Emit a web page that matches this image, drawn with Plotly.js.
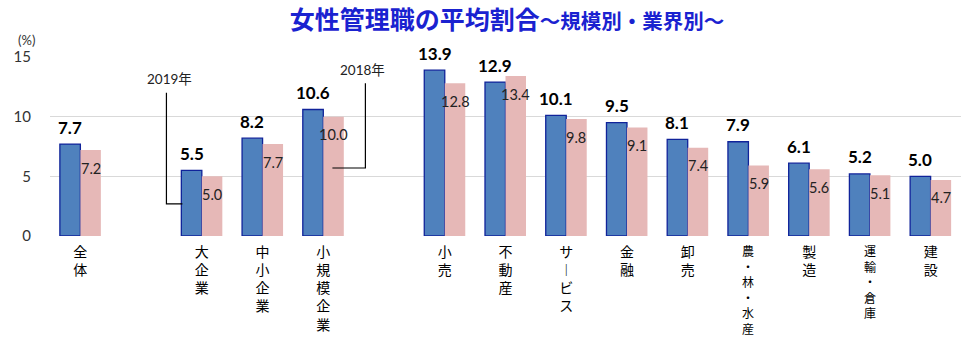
<!DOCTYPE html>
<html>
<head>
<meta charset="utf-8">
<script src="https://cdn.plot.ly/plotly-3.0.1.min.js"></script>
<style>html,body{margin:0;padding:0;background:#fff;}#chart{width:966px;height:338px;}</style>
</head>
<body>
<div id="chart"></div>
<script>
// slots: null = empty gap slot between groups
const categories = ['全体', null, '大企業', '中小企業', '小規模企業', null, '小売', '不動産', 'サービス', '金融', '卸売', '農・林・水産', '製造', '運輸・倉庫', '建設'];
// vertical display form of each category label (one character per line)
const verticalLabels = ['全体', '', '大企業', '中小企業', '小規模企業', '', '小売', '不動産', 'サ︱ビス', '金融', '卸売', '農・林・水産', '製造', '運輸・倉庫', '建設'];
const values2019 = [7.7, null, 5.5, 8.2, 10.6, null, 13.9, 12.9, 10.1, 9.5, 8.1, 7.9, 6.1, 5.2, 5.0];
const values2018 = [7.2, null, 5.0, 7.7, 10.0, null, 12.8, 13.4, 9.8, 9.1, 7.4, 5.9, 5.6, 5.1, 4.7];
const yTicks = [0, 5, 10, 15];

const pos = categories.map((c, i) => i);
const xs = pos.filter(i => categories[i] !== null);
const y19 = xs.map(i => values2019[i]);
const y18 = xs.map(i => values2018[i]);

const bargap = 0.325;
const half = (1 - bargap) / 4; // offset of each bar centre from slot centre

const numFont = 'Lato, "Noto Sans CJK JP", sans-serif';
const jpFont = '"Noto Sans CJK JP", sans-serif';
const labelSize = 14;
const longLabelSize = 12;  // labels with "・" are set tighter so they fit the page

const traces = [
  {type: 'bar', name: '2019年', x: xs, y: y19,
   marker: {color: '#4f81bd', line: {color: '#10239a', width: 1.3}}, hoverinfo: 'none'},
  {type: 'bar', name: '2018年', x: xs, y: y18,
   marker: {color: '#e6b8b7', line: {color: '#e6b8b7', width: 0}}, hoverinfo: 'none'}
];

const annotations = [];
xs.forEach((x, k) => {
  annotations.push({x: x - half, y: y19[k], xref: 'x', yref: 'y', text: y19[k].toFixed(1),
    showarrow: false, yanchor: 'middle', yshift: 17,
    font: {family: numFont, size: 17, color: '#000', weight: 'bold'}});
  annotations.push({x: x + half, y: y18[k], xref: 'x', yref: 'y', text: y18[k].toFixed(1),
    showarrow: false, yanchor: 'middle', yshift: -18,
    font: {family: numFont, size: 14.5, color: '#222'}});
});

const tickText = verticalLabels.map((lab, i) => {
  const chars = Array.from(lab);
  if (lab.indexOf('・') >= 0) {
    const pitch = longLabelSize * 1.3;
    annotations.push({x: i, y: 0, xref: 'x', yref: 'y', showarrow: false,
      text: chars.join('<br>'), xanchor: 'center', yanchor: 'middle',
      yshift: -(14 + (chars.length - 1) * pitch / 2),
      font: {family: jpFont, size: longLabelSize, color: '#000'}});
    return '';
  }
  return chars.join('<br>');
});

annotations.push({x: 1.466, y: 13.16, xref: 'x', yref: 'y', text: '2019年', showarrow: false,
  font: {family: numFont, size: 13.5, color: '#222'}});
annotations.push({x: 4.64, y: 13.9, xref: 'x', yref: 'y', text: '2018年', showarrow: false,
  font: {family: numFont, size: 13.5, color: '#222'}});
annotations.push({x: -24 / 911, y: 1 + 17 / 179, xref: 'paper', yref: 'paper',
  text: '(%)', showarrow: false, xanchor: 'center', yanchor: 'middle',
  font: {family: numFont, size: 13, color: '#333'}});

const shapes = [
  {type: 'path', xref: 'x', yref: 'y', path: 'M 1.417 12.0 L 1.417 2.7 L 1.68 2.7',
   line: {color: '#000', width: 1.2}},
  {type: 'path', xref: 'x', yref: 'y', path: 'M 4.693 12.8 L 4.693 5.7 L 4.15 5.7',
   line: {color: '#000', width: 1.2}}
];

const layout = {
  width: 966, height: 338,
  margin: {l: 50, r: 5, t: 57, b: 102, pad: 0},
  paper_bgcolor: '#fff', plot_bgcolor: '#fff',
  showlegend: false,
  barmode: 'group', bargap: bargap, bargroupgap: 0,
  title: {
    text: '<span style="font-size:25px">女性管理職の平均割合</span><span style="font-size:20.5px">～規模別・業界別～</span>',
    x: 507 / 966, xref: 'container', xanchor: 'center',
    y: 1 - 20 / 338, yref: 'container', yanchor: 'middle',
    font: {family: jpFont, size: 25, color: '#1a22d0', weight: 'bold'}
  },
  xaxis: {
    type: 'linear', range: [-0.5, 14.5], tickmode: 'array', tickvals: pos, ticktext: tickText,
    showgrid: false, zeroline: false, showline: false,
    ticks: 'outside', ticklen: 3, tickcolor: 'rgba(0,0,0,0)',
    tickfont: {family: jpFont, size: labelSize, color: '#000'}, tickangle: 0, fixedrange: true
  },
  yaxis: {
    range: [0, 15], tickmode: 'array', tickvals: yTicks, ticktext: yTicks.map(String),
    showgrid: true, gridcolor: '#d9d9d9', gridwidth: 1, zeroline: false, showline: false,
    ticks: '', ticklabelstandoff: 18,
    tickfont: {family: numFont, size: 15, color: '#333'}, fixedrange: true
  },
  annotations: annotations,
  shapes: shapes
};

Plotly.newPlot('chart', traces, layout, {displayModeBar: false, staticPlot: true});
</script>
</body>
</html>
